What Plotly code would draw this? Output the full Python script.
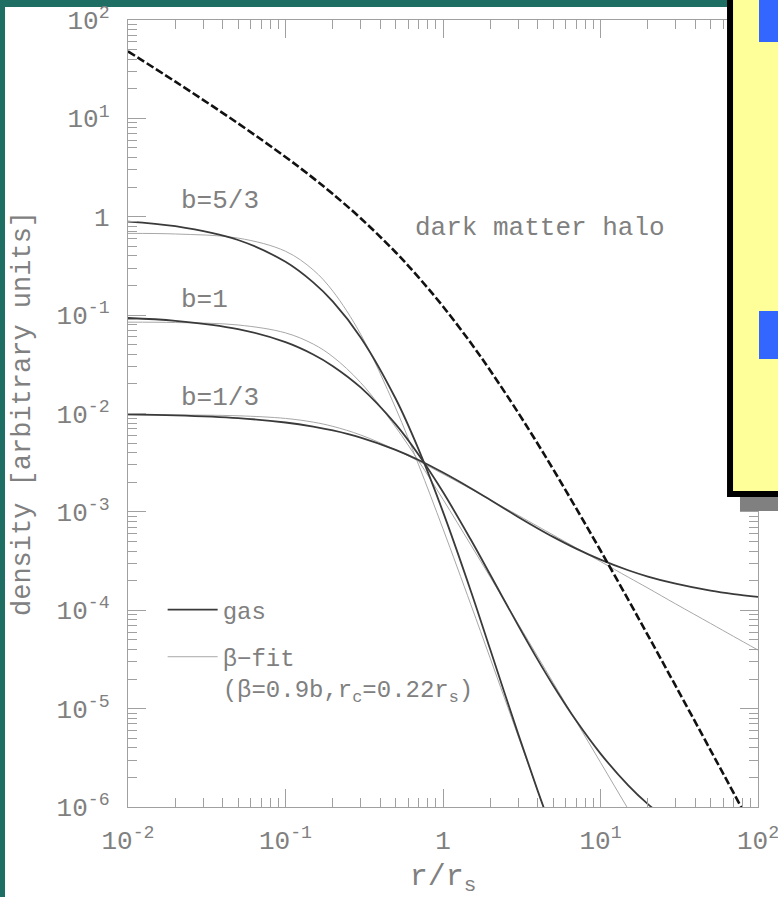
import math
import plotly.graph_objects as go

# Radius grid in units of the NFW scale radius r_s
r = [0.01, 0.02, 0.05, 0.1, 0.15, 0.2, 0.3, 0.5, 0.7, 1, 1.5, 2, 3, 4, 5,
     7, 10, 15, 20, 30, 50, 70, 100]

# Dark matter halo density
dm_halo = [48.0, 23.6, 8.89, 4.05, 2.47, 1.70, 0.966, 0.436, 0.242, 0.1225,
           0.0523, 0.0272, 0.0102, 4.90e-3, 2.72e-3, 1.09e-3, 4.05e-4,
           1.28e-4, 5.56e-5, 1.70e-5, 3.77e-6, 1.39e-6, 4.8e-7]

# Isothermal gas profiles
gas_b53 = [0.894, 0.801, 0.580, 0.348, 0.215, 0.137, 0.0594, 0.0142, 4.32e-3,
           1.00e-3, 1.58e-4, 3.94e-5, 5.54e-6, 1.45e-6, 5.4e-7]
gas_b1 = [0.0935, 0.0875, 0.0721, 0.0531, 0.0398, 0.0303, 0.0184, 7.79e-3,
          3.81e-3, 1.59e-3, 5.23e-4, 2.28e-4, 7.02e-5, 3.13e-5, 1.73e-5,
          7.56e-6, 3.49e-6, 1.66e-6, 1.07e-6, 6.4e-7]
gas_b13 = [9.78e-3, 9.57e-3, 8.97e-3, 8.10e-3, 7.36e-3, 6.72e-3, 5.69e-3,
           4.27e-3, 3.37e-3, 2.51e-3, 1.74e-3, 1.32e-3, 8.89e-4, 6.79e-4,
           5.57e-4, 4.23e-4, 3.27e-4, 2.55e-4, 2.20e-4, 1.86e-4, 1.58e-4,
           1.46e-4, 1.37e-4]

# Beta-model fits
fit_b53 = [0.677, 0.668, 0.607, 0.446, 0.288, 0.175, 0.0640, 0.0114, 3.01e-3,
           6.72e-4, 1.15e-4, 3.21e-5, 5.26e-6, 1.45e-6, 5.3e-7]
fit_b1 = [0.0848, 0.0841, 0.0794, 0.0660, 0.0508, 0.0377, 0.0206, 7.29e-3,
          3.29e-3, 1.34e-3, 4.63e-4, 2.16e-4, 7.29e-5, 3.36e-5, 1.84e-5,
          7.44e-6, 2.84e-6, 9.5e-7, 4.4e-7]
fit_b13 = [9.69e-3, 9.66e-3, 9.48e-3, 8.91e-3, 8.17e-3, 7.40e-3, 6.05e-3,
           4.28e-3, 3.28e-3, 2.43e-3, 1.71e-3, 1.32e-3, 9.22e-4, 7.12e-4,
           5.83e-4, 4.31e-4, 3.13e-4, 2.17e-4, 1.68e-4, 1.16e-4, 7.34e-5,
           5.42e-5, 3.94e-5]

curve_labels = ["b=5/3", "b=1", "b=1/3"]
label_pos = [(0.021, 1.43), (0.021, 0.143), (0.021, 0.0145)]

x_major = [0.01, 0.1, 1, 10, 100]
x_major_text = ["10<sup>-2</sup>", "10<sup>-1</sup>", "1", "10<sup>1</sup>", "10<sup>2</sup>"]
y_major = [1e-6, 1e-5, 1e-4, 1e-3, 1e-2, 1e-1, 1, 10, 100]
y_major_text = ["10<sup>-6</sup>", "10<sup>-5</sup>", "10<sup>-4</sup>", "10<sup>-3</sup>",
                "10<sup>-2</sup>", "10<sup>-1</sup>", "1", "10<sup>1</sup>", "10<sup>2</sup>"]

FONT = "Liberation Mono"
TEXT = "#808080"
AXIS = "#a0a0a0"
TEAL = "#1e6e64"

x_minor = [m * 10.0 ** k for k in range(-2, 2) for m in range(2, 10)]
y_minor = [m * 10.0 ** k for k in range(-6, 2) for m in range(2, 10)]

fig = go.Figure()

fit_style = dict(color="#a8a8a8", width=1)
gas_style = dict(color="#3a3a3a", width=1.8)

for i, fit in enumerate([fit_b53, fit_b1, fit_b13]):
    fig.add_trace(go.Scatter(
        x=r[:len(fit)], y=fit, mode="lines", line=dict(**fit_style, shape="spline"),
        name="β−fit<br>(β=0.9b,r<sub>c</sub>=0.22r<sub>s</sub>)",
        legendgroup="fit", showlegend=(i == 0), legendrank=2))

for i, gas in enumerate([gas_b53, gas_b1, gas_b13]):
    fig.add_trace(go.Scatter(
        x=r[:len(gas)], y=gas, mode="lines", line=dict(**gas_style, shape="spline"),
        name="gas", legendgroup="gas", showlegend=(i == 0), legendrank=1))

fig.add_trace(go.Scatter(
    x=r, y=dm_halo, mode="lines", showlegend=False,
    line=dict(color="#111111", width=2.6, dash="8px,3px", shape="spline")))

annotations = []
for text, (ax, ay) in zip(curve_labels, label_pos):
    annotations.append(dict(x=math.log10(ax), y=math.log10(ay), text=text,
                            xanchor="left", yanchor="middle", showarrow=False,
                            font=dict(family=FONT, size=26, color=TEXT)))
annotations.append(dict(x=math.log10(0.645), y=math.log10(0.76), text="dark matter halo",
                        xanchor="left", yanchor="middle", showarrow=False,
                        font=dict(family=FONT, size=26, color=TEXT)))

axis_common = dict(
    type="log", showline=True, linecolor=AXIS, linewidth=1.3, mirror="ticks",
    ticks="inside", ticklen=18, tickwidth=1.1, tickcolor=AXIS,
    showgrid=False, zeroline=False, automargin=False, ticklabeloverflow="allow",
    tickfont=dict(family=FONT, size=26, color=TEXT),
)

fig.update_layout(
    width=778, height=897,
    margin=dict(l=128, r=20, t=20, b=90),
    paper_bgcolor="white", plot_bgcolor="white",
    xaxis=dict(**axis_common, range=[-2, 2], tickvals=x_major, ticktext=x_major_text,
               ticklabelstandoff=10,
               minor=dict(tickvals=x_minor, ticks="inside", ticklen=9,
                          tickcolor=AXIS, tickwidth=1.1),
               title=dict(text="r/r<sub>s</sub>", standoff=18,
                          font=dict(family=FONT, size=30, color=TEXT))),
    yaxis=dict(**axis_common, range=[-6, 2], tickvals=y_major, ticktext=y_major_text,
               ticklabelstandoff=12,
               minor=dict(tickvals=y_minor, ticks="inside", ticklen=9,
                          tickcolor=AXIS, tickwidth=1.1),
               title=dict(text="density [arbitrary units]", standoff=18,
                          font=dict(family=FONT, size=27, color=TEXT))),
    legend=dict(x=0.055, y=0.279, xanchor="left", yanchor="top", itemwidth=50,
                bgcolor="rgba(0,0,0,0)", valign="top", tracegroupgap=13,
                font=dict(family=FONT, size=24, color=TEXT)),
    annotations=annotations,
    showlegend=True,
)

# Slide frame: teal bands along the top and left edges
fig.add_shape(type="rect", xref="paper", yref="paper", x0=-0.3, x1=1.1,
              y0=1.0165, y1=1.05, fillcolor=TEAL, line_width=0, layer="below")
fig.add_shape(type="rect", xref="paper", yref="paper", x0=-0.3, x1=-0.1952,
              y0=-0.2, y1=1.05, fillcolor=TEAL, line_width=0, layer="below")

# Overlapping note box at the upper right, with its drop shadow and bullets
fig.add_shape(type="rect", xref="paper", yref="paper", x0=0.9714, x1=1.1,
              y0=0.3761, y1=0.40, fillcolor="#808080", line_width=0, layer="above")
fig.add_shape(type="rect", xref="paper", yref="paper", x0=0.9556, x1=1.1,
              y0=0.3977, y1=1.05, fillcolor="#ffff99",
              line=dict(color="black", width=6), layer="above")
fig.add_shape(type="rect", xref="paper", yref="paper", x0=1.0016, x1=1.1,
              y0=0.9720, y1=1.05, fillcolor="#3366ff", line_width=0, layer="above")
fig.add_shape(type="rect", xref="paper", yref="paper", x0=1.0016, x1=1.1,
              y0=0.5693, y1=0.6302, fillcolor="#3366ff", line_width=0, layer="above")

fig.write_html("out.html")
